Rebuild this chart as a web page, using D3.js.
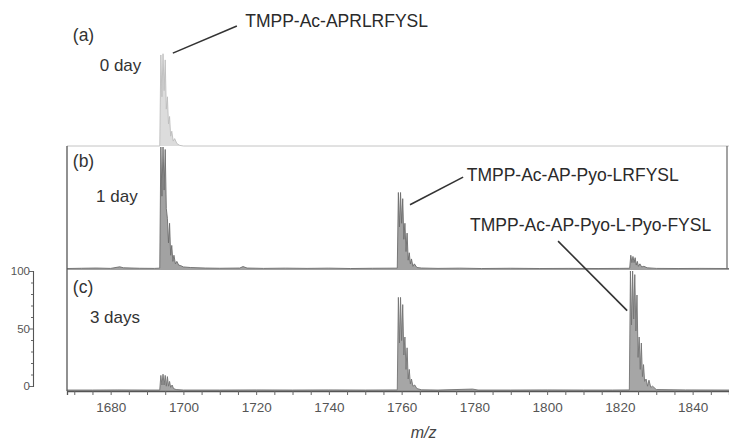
<!DOCTYPE html>
<html>
<head>
<meta charset="utf-8">
<script src="https://cdn.jsdelivr.net/npm/d3@7/dist/d3.min.js"></script>
<style>
  html, body { margin: 0; padding: 0; background: #fff; }
  svg { display: block; }
  text { font-family: "Liberation Sans", Arial, sans-serif; }
</style>
</head>
<body>
<svg id="chart" width="729" height="440"></svg>
<script>
// MALDI spectra of TMPP-Ac-APRLRFYSL after 0, 1 and 3 days (m/z vs. relative intensity %)
const mzTicks = [1680, 1700, 1720, 1740, 1760, 1780, 1800, 1820, 1840];
const intensityTicks = [0, 50, 100];

// (a) 0 day — [m/z, relative intensity %]
const spectrumA = [
  [1668, 0], [1693.5, 0], [1693.8, 74], [1694.1, 40], [1694.4, 75], [1694.7, 45],
  [1695.0, 70], [1695.3, 30], [1695.6, 40], [1695.9, 18], [1696.2, 24], [1696.5, 8],
  [1696.8, 12], [1697.2, 4], [1697.6, 6], [1698.2, 2], [1699, 0.5], [1700, 0], [1850, 0]
];

// (b) 1 day
const spectrumB = [
  [1668, 1.2], [1672, 1.4], [1676, 1.6], [1680, 1.3], [1682.5, 2.6], [1683.5, 1.8],
  [1688, 1.4], [1692, 1.3], [1693.5, 1.5],
  [1693.8, 100], [1694.1, 60], [1694.4, 100], [1694.7, 65], [1695.0, 98], [1695.3, 50],
  [1695.6, 42], [1695.9, 22], [1696.2, 38], [1696.5, 12], [1696.8, 20], [1697.1, 7],
  [1697.4, 12], [1697.8, 5], [1698.2, 7], [1698.7, 4], [1699.3, 3.5], [1700, 2.5],
  [1702, 2], [1706, 1.6], [1710, 1.4], [1715.5, 1.6], [1716.4, 2.8], [1717.5, 1.6],
  [1722, 1.3], [1728, 1.5], [1734, 1.3], [1740, 1.5], [1746, 1.2], [1752, 1.4],
  [1758.8, 1.5],
  [1759.1, 63], [1759.4, 35], [1759.7, 63], [1760.0, 38], [1760.3, 58], [1760.6, 25],
  [1760.9, 38], [1761.2, 15], [1761.5, 30], [1761.8, 8], [1762.1, 14], [1762.4, 5],
  [1762.7, 9], [1763.1, 3], [1763.5, 5], [1764.2, 2], [1765.5, 1.6], [1770, 1.3],
  [1776, 1.5], [1782, 1.2], [1790, 1.4], [1798, 1.2], [1806, 1.3], [1814, 1.2],
  [1820, 1.3], [1822.7, 1.4],
  [1823.0, 12], [1823.3, 6], [1823.6, 11], [1823.9, 6], [1824.2, 10], [1824.5, 4],
  [1824.8, 7], [1825.1, 3], [1825.5, 5], [1826.0, 2.5], [1826.6, 3], [1827.5, 1.8],
  [1830, 1.3], [1836, 1.2], [1842, 1.3], [1850, 1.2]
];

// (c) 3 days
const spectrumC = [
  [1668, 0.8], [1675, 0.8], [1682, 0.9], [1690, 0.8], [1693.5, 0.8],
  [1693.8, 13], [1694.1, 5], [1694.4, 14], [1694.7, 5], [1695.0, 13], [1695.3, 4],
  [1695.6, 12], [1695.9, 4], [1696.2, 8], [1696.5, 3], [1696.9, 5], [1697.3, 2],
  [1698, 1.2], [1700, 0.8], [1710, 0.8], [1720, 0.9], [1730, 0.8], [1740, 0.9],
  [1750, 0.8], [1758.8, 0.9],
  [1759.1, 78], [1759.4, 40], [1759.7, 78], [1760.0, 42], [1760.3, 72], [1760.6, 30],
  [1760.9, 45], [1761.2, 18], [1761.5, 36], [1761.8, 10], [1762.1, 18], [1762.4, 6],
  [1762.7, 10], [1763.1, 4], [1763.6, 5], [1764.2, 2], [1765.5, 1], [1770, 0.8],
  [1779.5, 1.6], [1781, 0.8], [1790, 0.8], [1800, 0.9], [1810, 0.8], [1818, 0.8],
  [1822.6, 0.9],
  [1822.9, 100], [1823.2, 55], [1823.5, 100], [1823.8, 60], [1824.1, 97], [1824.4, 50],
  [1824.7, 80], [1825.0, 28], [1825.3, 45], [1825.6, 18], [1825.9, 40], [1826.2, 12],
  [1826.5, 22], [1826.8, 8], [1827.2, 10], [1827.6, 4], [1828.0, 9], [1828.5, 3],
  [1829.0, 4], [1830, 1.2], [1838, 0.9], [1850, 0.8]
];

const svg = d3.select("#chart");

const x = d3.scaleLinear().domain([1668, 1850]).range([67, 729]);
const yA = d3.scaleLinear().domain([0, 100]).range([146, 23]);
const yB = d3.scaleLinear().domain([0, 100]).range([270, 147]);
const yC = d3.scaleLinear().domain([0, 100]).range([391, 271]);

function drawSpectrum(data, y, fill, stroke) {
  const area = d3.area().x(d => x(d[0])).y0(y(0)).y1(d => y(d[1]));
  const line = d3.line().x(d => x(d[0])).y(d => y(d[1]));
  svg.append("path").datum(data).attr("d", area)
    .attr("fill", fill).attr("stroke", "none");
  svg.append("path").datum(data).attr("d", line)
    .attr("fill", "none").attr("stroke", stroke).attr("stroke-width", 0.9);
}

// panel (a): light trace sitting on top of panel (b)
drawSpectrum(spectrumA, yA, "#dcdcdc", "#bdbdbd");
// panel (b) frame (right edge)
svg.append("line").attr("x1", x(1850) - 2).attr("x2", x(1850) - 2)
  .attr("y1", yB(100) - 1).attr("y2", yB(0))
  .attr("stroke", "#666").attr("stroke-width", 1.2);
drawSpectrum(spectrumB, yB, "#a2a2a2", "#6c6c6c");
drawSpectrum(spectrumC, yC, "#a6a6a6", "#737373");

// shared left axis line across (b) and (c)
svg.append("line").attr("x1", x(1668)).attr("x2", x(1668))
  .attr("y1", yB(100) - 1).attr("y2", yC(0))
  .attr("stroke", "#555").attr("stroke-width", 1.3);

// m/z axis
const minorTicks = d3.range(1670, 1851, 5);
const xAxis = svg.append("g").attr("transform", `translate(0,${yC(0)})`)
  .call(d3.axisBottom(x).tickValues(minorTicks).tickSize(4)
    .tickFormat(d => mzTicks.includes(d) ? d : ""));
xAxis.select(".domain").attr("stroke", "#555").attr("stroke-width", 1.3);
xAxis.selectAll(".tick line").attr("stroke", "#666");
xAxis.selectAll(".tick text")
  .attr("y", 11).attr("fill", "#555")
  .style("font-size", "13.5px").style("font-family", "'Liberation Sans', Arial, sans-serif");

svg.append("text").attr("x", x(1762.5)).attr("y", 438)
  .attr("fill", "#444").style("font-size", "16px").style("font-style", "italic")
  .text("m/z");

// intensity scale bar
const yScaleBar = d3.scaleLinear().domain([0, 100]).range([386, 271]);
const yAxis = svg.append("g").attr("transform", "translate(33,0)")
  .call(d3.axisLeft(yScaleBar).tickValues(d3.range(0, 101, 10)).tickSize(3)
    .tickFormat(d => intensityTicks.includes(d) ? d : ""));
yAxis.select(".domain").attr("stroke", "#555").attr("stroke-width", 1.1);
yAxis.selectAll(".tick line").attr("stroke", "#666")
  .attr("x2", d => intensityTicks.includes(d) ? -4 : -2);
yAxis.selectAll(".tick text").attr("x", -3).attr("fill", "#555")
  .style("font-size", "11.5px").style("font-family", "'Liberation Sans', Arial, sans-serif");

// panel labels
const panelLabels = [
  { letter: "(a)", time: "0 day", y: yA, letterAt: 85, timeAt: 61, timeMz: 1677 },
  { letter: "(b)", time: "1 day", y: yB, letterAt: 84, timeAt: 55, timeMz: 1676 },
  { letter: "(c)", time: "3 days", y: yC, letterAt: 82, timeAt: 57, timeMz: 1674.3 }
];
panelLabels.forEach(p => {
  svg.append("text").attr("x", x(1669.6)).attr("y", p.y(p.letterAt))
    .attr("fill", "#333").style("font-size", "17.5px").text(p.letter);
  svg.append("text").attr("x", x(p.timeMz)).attr("y", p.y(p.timeAt))
    .attr("fill", "#333").style("font-size", "17px").text(p.time);
});

// peak annotations with leader lines
const annotations = [
  { text: "TMPP-Ac-APRLRFYSL", tx: 1717, ty: yA(97), l: [[1697.1, yA(75.5)], [1714.7, yA(97.5)]] },
  { text: "TMPP-Ac-AP-Pyo-LRFYSL", tx: 1777.9, ty: yB(72), l: [[1762.3, yB(53)], [1776.9, yB(75.5)]] },
  { text: "TMPP-Ac-AP-Pyo-L-Pyo-FYSL", tx: 1778.8, ty: yB(31.5), l: [[1803.0, yB(23.5)], [1822.0, yC(67)]] }
];
annotations.forEach(a => {
  svg.append("line")
    .attr("x1", x(a.l[0][0])).attr("y1", a.l[0][1])
    .attr("x2", x(a.l[1][0])).attr("y2", a.l[1][1])
    .attr("stroke", "#333").attr("stroke-width", 1.6);
  svg.append("text").attr("x", x(a.tx)).attr("y", a.ty)
    .attr("fill", "#2a2a2a").style("font-size", "17.5px").text(a.text);
});
</script>
</body>
</html>
